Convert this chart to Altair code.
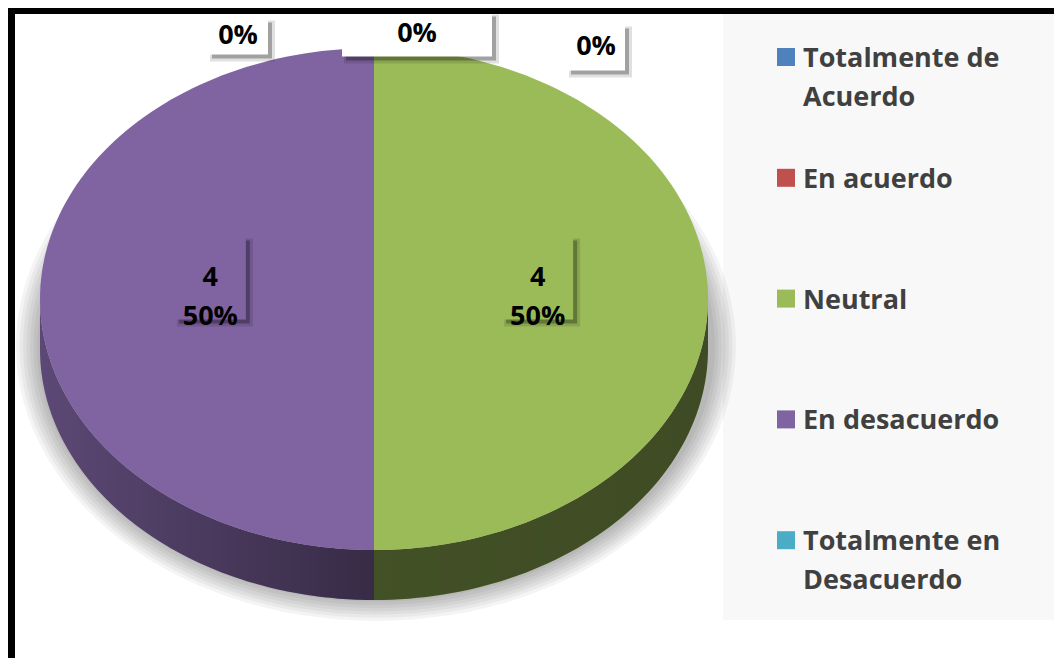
import textwrap
import altair as alt
import pandas as pd

# ---------------- data ----------------
categories = ["Totalmente de Acuerdo", "En acuerdo", "Neutral", "En desacuerdo", "Totalmente en Desacuerdo"]
counts = [0, 0, 4, 4, 0]
colors = ["#4f81bd", "#c0504d", "#9bbb59", "#8064a2", "#4bacc6"]

# ---------------- layout (page pixels) ----------------
CX, CY, RX, RY, DEPTH = 374, 299, 334, 251, 50
N = 120
label_dx = [-136, 43, 0, 0, 222]
label_dy = [1, -1, -21, -21, 12]
box_w = [60, 150, 71, 71, 58]
box_h = [36, 44, 83, 83, 46]
FONT = "Open Sans"

pie_df = pd.DataFrame({"cat": categories, "value": counts, "idx": list(range(len(categories)))})
layout_df = pd.DataFrame({"cat": categories, "dx": label_dx, "dy": label_dy, "bw": box_w, "bh": box_h})
legend_df = pd.DataFrame({
    "cat": categories,
    "idx": list(range(len(categories))),
    "txt": ["\n".join(textwrap.wrap(c, 13)) for c in categories],
})

W, H = 1046, 650
xs = alt.Scale(domain=[8, 8 + W], range=[0, W], nice=False, zero=False)
ys = alt.Scale(domain=[8, 8 + H], range=[0, H], nice=False, zero=False)
cscale = alt.Scale(domain=categories, range=colors)


def X(f):
    return alt.X(f, type="quantitative", scale=xs, axis=None)


def Y(f):
    return alt.Y(f, type="quantitative", scale=ys, axis=None)


base = (
    alt.Chart(pie_df)
    .transform_joinaggregate(total="sum(value)")
    .transform_window(cum="sum(value)", sort=[alt.SortField("idx")], frame=[None, 0])
    .transform_calculate(
        a0="2*PI*(datum.cum - datum.value)/datum.total",
        a1="2*PI*datum.cum/datum.total",
        pct="datum.value/datum.total",
    )
)

# ---- soft shadow under the pie ----
shadow_levels = pd.DataFrame({"lvl": list(range(7))})
shadow = (
    alt.Chart(shadow_levels)
    .transform_calculate(t=f"sequence(0, {N + 1})")
    .transform_flatten(["t"])
    .transform_calculate(
        ang=f"2*PI*datum.t/{N}",
        px=f"376 + (360 - 3.5*datum.lvl)*sin(datum.ang)",
        py=f"346 - (275 - 3.2*datum.lvl)*cos(datum.ang)",
    )
    .mark_line(filled=True, fill="black", fillOpacity=0.042, strokeWidth=0)
    .encode(x=X("px"), y=Y("py"), order="t:Q", detail="lvl:N")
)

# ---- side wall of each slice ----
side = (
    base.transform_filter("datum.value > 0")
    .transform_calculate(s0="max(datum.a0, PI/2)", s1="min(datum.a1, 3*PI/2)")
    .transform_filter("datum.s1 > datum.s0")
    .transform_calculate(t=f"sequence(0, {2 * N + 2})")
    .transform_flatten(["t"])
    .transform_calculate(k=f"datum.t <= {N} ? datum.t : {2 * N + 1} - datum.t")
    .transform_calculate(ang=f"datum.s0 + (datum.s1 - datum.s0)*datum.k/{N}")
    .transform_calculate(
        px=f"{CX} + {RX}*sin(datum.ang)",
        py=f"{CY} - {RY}*cos(datum.ang) + (datum.t > {N} ? {DEPTH} : 0)",
    )
    .mark_line(filled=True, strokeWidth=0)
    .encode(x=X("px"), y=Y("py"), order="t:Q", detail="cat:N",
            color=alt.Color("cat:N", scale=cscale, legend=None))
)

# ---- darkening of the side wall ----
shade = (
    alt.Chart(alt.sequence(0, 2 * N + 2, as_="t"))
    .transform_calculate(k=f"datum.t <= {N} ? datum.t : {2 * N + 1} - datum.t")
    .transform_calculate(ang=f"PI/2 + PI*datum.k/{N}")
    .transform_calculate(
        px=f"{CX} + {RX}*sin(datum.ang)",
        py=f"{CY} - {RY}*cos(datum.ang) + (datum.t > {N} ? {DEPTH} : 0)",
    )
    .mark_line(
        filled=True,
        strokeWidth=0,
        fill=alt.LinearGradient(
            gradient="linear",
            stops=[
                alt.GradientStop(offset=0, color="rgba(0,0,0,0.28)"),
                alt.GradientStop(offset=0.5, color="rgba(0,0,0,0.57)"),
                alt.GradientStop(offset=1, color="rgba(0,0,0,0.6)"),
            ],
            x1=0, x2=1, y1=0, y2=0,
        ),
    )
    .encode(x=X("px"), y=Y("py"), order="t:Q")
)

# ---- top faces ----
top = (
    base.transform_filter("datum.value > 0")
    .transform_calculate(t=f"sequence(0, {N + 2})")
    .transform_flatten(["t"])
    .transform_calculate(ang=f"datum.a0 + (datum.a1 - datum.a0)*min(datum.t, {N})/{N}")
    .transform_calculate(
        px=f"datum.t > {N} ? {CX} : {CX} + {RX}*sin(datum.ang)",
        py=f"datum.t > {N} ? {CY} : {CY} - {RY}*cos(datum.ang)",
    )
    .mark_line(filled=True, strokeWidth=0)
    .encode(x=X("px"), y=Y("py"), order="t:Q", detail="cat:N",
            color=alt.Color("cat:N", scale=cscale, legend=None))
)

# ---- data labels ----
lab = (
    base.transform_lookup(lookup="cat", from_=alt.LookupData(layout_df, "cat", ["dx", "dy", "bw", "bh"]))
    .transform_calculate(mid="(datum.a0 + datum.a1)/2", r="datum.value > 0 ? 0.49 : 1.05")
    .transform_calculate(
        lx=f"{CX} + datum.r*{RX}*sin(datum.mid) + datum.dx",
        ly=f"{CY} - datum.r*{RY}*cos(datum.mid) + datum.dy",
        label="datum.value > 0 ? datum.value + '\\n' + format(datum.pct, '.0%') : format(datum.pct, '.0%')",
    )
    .transform_calculate(
        bx0="datum.lx - datum.bw/2", bx1="datum.lx + datum.bw/2",
        by0="datum.ly - datum.bh/2", by1="datum.ly + datum.bh/2",
        sx0="datum.lx - datum.bw/2 + 4", sx1="datum.lx + datum.bw/2 + 4",
        sy0="datum.ly - datum.bh/2 + 4", sy1="datum.ly + datum.bh/2 + 4",
        gx0="datum.lx - datum.bw/2 + 2", gx1="datum.lx + datum.bw/2 + 7",
        gy0="datum.ly - datum.bh/2 + 2", gy1="datum.ly + datum.bh/2 + 7",
    )
)
box_glow = lab.mark_rect(color="black", opacity=0.12).encode(x=X("gx0"), x2="gx1:Q", y=Y("gy0"), y2="gy1:Q")
box_shadow = lab.mark_rect(color="black", opacity=0.28).encode(x=X("sx0"), x2="sx1:Q", y=Y("sy0"), y2="sy1:Q")
box_zero = lab.transform_filter("datum.value == 0").mark_rect(color="white").encode(
    x=X("bx0"), x2="bx1:Q", y=Y("by0"), y2="by1:Q")
box_pos = lab.transform_filter("datum.value > 0").mark_rect().encode(
    x=X("bx0"), x2="bx1:Q", y=Y("by0"), y2="by1:Q",
    color=alt.Color("cat:N", scale=cscale, legend=None))
lab_text = lab.mark_text(
    font=FONT, fontSize=27, fontWeight="bold", color="black", lineBreak="\n", lineHeight=39,
    baseline="middle", align="center",
).encode(x=X("lx"), y=Y("ly"), text="label:N")

# ---- legend ----
leg_panel = alt.Chart(pie_df).mark_rect(color="#f8f8f8").encode(
    x=alt.value(723 - 8), x2=alt.value(W), y=alt.value(14 - 8), y2=alt.value(620 - 8))
leg = alt.Chart(legend_df).transform_calculate(
    ly="57 + 120.8*datum.idx", lx="786", tx="803", tb="57 + 120.8*datum.idx + 10")
leg_sq = leg.mark_square(size=324, opacity=1).encode(
    x=X("lx"), y=Y("ly"), color=alt.Color("cat:N", scale=cscale, legend=None))
leg_txt = leg.mark_text(
    font=FONT, fontSize=27, fontWeight="bold", color="#404040", align="left",
    baseline="alphabetic", lineBreak="\n", lineHeight=39,
).encode(x=X("tx"), y=Y("tb"), text="txt:N")

# ---- outer frame (left and top edges visible) ----
frame_l = alt.Chart(pie_df).mark_rect(color="black").encode(
    x=alt.value(0), x2=alt.value(7), y=alt.value(0), y2=alt.value(H))
frame_t = alt.Chart(pie_df).mark_rect(color="black").encode(
    x=alt.value(0), x2=alt.value(W), y=alt.value(0), y2=alt.value(6))

chart = alt.layer(
    leg_panel, shadow, side, shade, top, box_glow, box_shadow, box_zero, box_pos, lab_text,
    leg_sq, leg_txt, frame_l, frame_t,
).properties(
    width=W, height=H, padding=0, autosize="none", background="white"
).configure_view(stroke=None)

chart.save("out.html", embed_options={"renderer": "svg", "actions": False})
